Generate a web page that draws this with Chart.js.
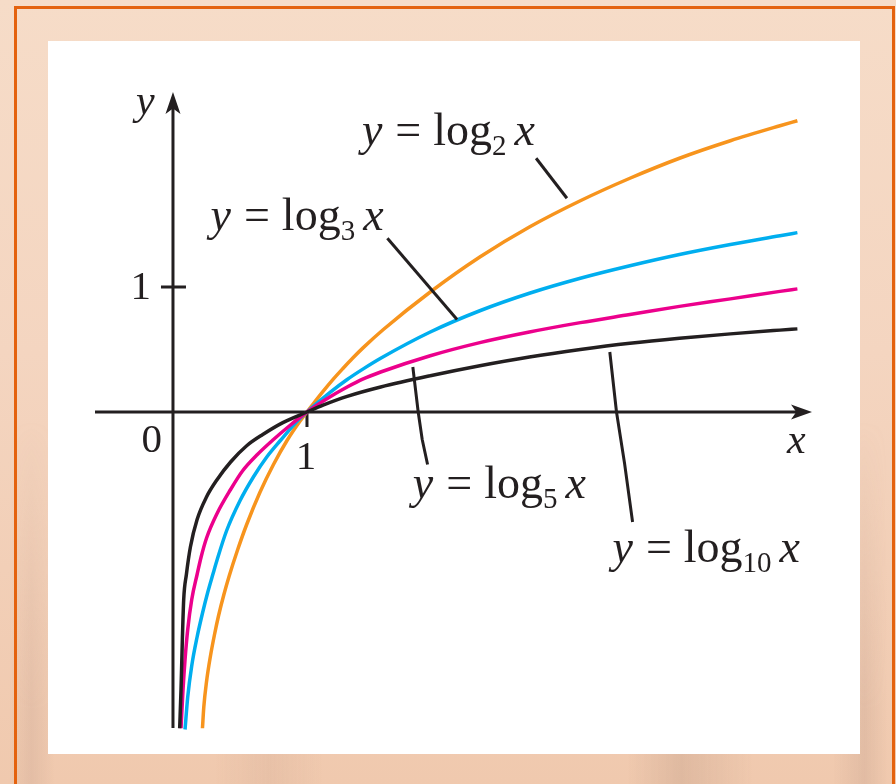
<!DOCTYPE html>
<html>
<head>
<meta charset="utf-8">
<script src="https://cdn.jsdelivr.net/npm/chart.js@4"></script>
<style>
  html, body { margin: 0; padding: 0; }
  body {
    width: 896px; height: 784px; position: relative; overflow: hidden;
    background: linear-gradient(180deg, #f6dcc8 0%, #f4d5c0 45%, #f0c9ae 100%);
  }
  .streaks {
    position: absolute; left: 0; top: 420px; width: 896px; height: 364px;
    background: linear-gradient(90deg, rgba(0,0,0,0) 1%, rgba(185,150,135,0.22) 3.5%, rgba(0,0,0,0) 6%,
      rgba(0,0,0,0) 24%, rgba(190,150,130,0.16) 30%, rgba(0,0,0,0) 36%,
      rgba(0,0,0,0) 70%, rgba(170,135,115,0.24) 76%, rgba(0,0,0,0) 84%,
      rgba(0,0,0,0) 93%, rgba(170,135,120,0.2) 96.5%, rgba(0,0,0,0) 99%);
    -webkit-mask-image: linear-gradient(180deg, transparent 0%, #000 80%);
    mask-image: linear-gradient(180deg, transparent 0%, #000 80%);
  }
  .frame {
    position: absolute; left: 14px; top: 6px; width: 875px; height: 820px;
    border: 3px solid #e4620e; border-bottom: none;
  }
  .panel {
    position: absolute; left: 48px; top: 41px; width: 812px; height: 713px; background: #fff;
  }
  canvas { position: absolute; left: 0; top: 0; }
</style>
</head>
<body>
<div class="streaks"></div>
<div class="frame"></div>
<div class="panel"></div>
<canvas id="c" width="896" height="784"></canvas>
<script>
// axis window
const X_MIN = -0.582, X_MAX = 4.769
const Y_MIN = -2.544, Y_MAX = 2.56

// curve samples
const log10X = [0.05, 0.06, 0.07, 0.08, 0.10, 0.13, 0.18, 0.25, 0.33, 0.43, 0.55, 0.67, 0.82, 1.0, 1.12, 1.30, 1.55, 1.92, 2.29, 2.66, 3.04, 3.41, 3.78, 4.16, 4.53, 4.66]
const log10Y = [-2.53, -2.22, -1.82, -1.50, -1.30, -1.08, -0.86, -0.68, -0.54, -0.40, -0.27, -0.18, -0.085, 0.0, 0.055, 0.125, 0.20, 0.29, 0.37, 0.44, 0.50, 0.55, 0.59, 0.625, 0.655, 0.665]

const log5X = [0.06, 0.075, 0.09, 0.11, 0.14, 0.18, 0.21, 0.25, 0.33, 0.43, 0.52, 0.63, 0.75, 0.87, 1.0, 1.17, 1.30, 1.42, 1.55, 1.92, 2.29, 2.66, 3.04, 3.41, 3.78, 4.16, 4.53, 4.66]
const log5Y = [-2.53, -2.22, -1.98, -1.74, -1.50, -1.30, -1.16, -1.01, -0.81, -0.62, -0.47, -0.34, -0.22, -0.11, 0.0, 0.12, 0.20, 0.265, 0.32, 0.45, 0.555, 0.64, 0.715, 0.78, 0.845, 0.905, 0.965, 0.985]

const log3X = [0.09, 0.11, 0.14, 0.18, 0.22, 0.26, 0.30, 0.33, 0.40, 0.50, 0.60, 0.70, 0.80, 0.93, 1.0, 1.08, 1.17, 1.30, 1.42, 1.55, 1.92, 2.29, 2.66, 3.04, 3.41, 3.78, 4.16, 4.53, 4.66]
const log3Y = [-2.54, -2.28, -2.03, -1.80, -1.61, -1.44, -1.29, -1.18, -0.95, -0.71, -0.52, -0.36, -0.23, -0.07, 0.0, 0.075, 0.155, 0.26, 0.345, 0.43, 0.64, 0.81, 0.95, 1.07, 1.17, 1.26, 1.34, 1.41, 1.435]

const log2X = [0.22, 0.23, 0.25, 0.28, 0.31, 0.34, 0.38, 0.42, 0.48, 0.55, 0.65, 0.75, 0.85, 0.95, 1.0, 1.05, 1.12, 1.19, 1.27, 1.34, 1.42, 1.57, 1.92, 2.29, 2.66, 3.04, 3.41, 3.78, 4.16, 4.53, 4.66]
const log2Y = [-2.53, -2.36, -2.16, -1.95, -1.78, -1.63, -1.46, -1.31, -1.11, -0.90, -0.64, -0.42, -0.23, -0.07, 0.0, 0.07, 0.165, 0.255, 0.35, 0.43, 0.515, 0.66, 0.96, 1.24, 1.48, 1.69, 1.87, 2.03, 2.17, 2.29, 2.33]

// curve captions: base, anchor (left edge / baseline)
const captionBase = ['2', '3', '5', '10']
const captionX = [1.41, 0.28, 1.79, 3.28]
const captionY = [2.14, 1.46, -0.69, -1.20]

// leader lines from captions to curves
const leaderX = [[2.71, 2.94], [1.60, 2.12], [1.79, 1.83, 1.86, 1.90], [3.26, 3.31, 3.37, 3.43]]
const leaderY = [[2.03, 1.71], [1.39, 0.74], [0.36, 0.0, -0.22, -0.42], [0.48, 0.0, -0.41, -0.88]]

// ticks
const xTicks = [1]
const yTicks = [1]

const INK = '#231f20'
const SERIF = '"Liberation Serif", "DejaVu Serif", serif'

const pts = (xs, ys) => xs.map((x, i) => ({ x, y: ys[i] }))
const curve = (data, color) => ({
  data, borderColor: color, borderWidth: 3.5, pointRadius: 0,
  cubicInterpolationMode: 'monotone', fill: false
})

function arrowHead (ctx, tipX, tipY, dirX, dirY, len, half) {
  const bx = tipX - dirX * len, by = tipY - dirY * len
  const nx = -dirY, ny = dirX
  ctx.beginPath()
  ctx.moveTo(tipX, tipY)
  ctx.lineTo(bx + nx * half, by + ny * half)
  ctx.lineTo(tipX - dirX * len * 0.75, tipY - dirY * len * 0.75)
  ctx.lineTo(bx - nx * half, by - ny * half)
  ctx.closePath()
  ctx.fill()
}

// y = log_b x, italic y and x, roman log, small subscript
function logCaption (ctx, x, y, base) {
  ctx.textBaseline = 'alphabetic'
  ctx.textAlign = 'left'
  const big = '46px ' + SERIF
  const parts = [
    ['y', 'italic ' + big, 0, 13],
    ['=', big, 0, 12],
    ['log', big, 0, 0],
    [base, '29px ' + SERIF, 10, 8],
    ['x', 'italic ' + big, 0, 0]
  ]
  for (const [t, f, dy, after] of parts) {
    ctx.font = f
    ctx.fillText(t, x, y + dy)
    x += ctx.measureText(t).width + after
  }
}

const axesPlugin = {
  id: 'axes',
  beforeDatasetsDraw (chart) {
    const { ctx, scales: { x, y } } = chart
    const x0 = x.getPixelForValue(0), y0 = y.getPixelForValue(0)
    ctx.save()
    ctx.strokeStyle = INK; ctx.fillStyle = INK; ctx.lineWidth = 3
    // axis lines
    ctx.beginPath()
    ctx.moveTo(x.left, y0); ctx.lineTo(x.right - 6, y0)
    ctx.moveTo(x0, y.bottom - 2); ctx.lineTo(x0, y.top + 6)
    ctx.stroke()
    arrowHead(ctx, x.right, y0, 1, 0, 21, 7.5)
    arrowHead(ctx, x0, y.top, 0, -1, 22, 7.5)
    // ticks
    ctx.beginPath()
    xTicks.forEach(v => { const p = x.getPixelForValue(v); ctx.moveTo(p, y0); ctx.lineTo(p, y0 + 15) })
    yTicks.forEach(v => { const p = y.getPixelForValue(v); ctx.moveTo(x0 - 12, p); ctx.lineTo(x0 + 13, p) })
    ctx.stroke()
    // tick labels
    ctx.font = '41px ' + SERIF
    ctx.textBaseline = 'alphabetic'
    ctx.textAlign = 'center'
    xTicks.forEach(v => ctx.fillText(String(v), x.getPixelForValue(v) - 1, y0 + 57))
    ctx.textAlign = 'right'
    yTicks.forEach(v => ctx.fillText(String(v), x0 - 22, y.getPixelForValue(v) + 12))
    ctx.fillText('0', x0 - 11, y0 + 40)
    // axis names
    ctx.font = 'italic 42px ' + SERIF
    ctx.textAlign = 'left'
    ctx.fillText('y', x0 - 37, y.top + 22)
    ctx.fillText('x', x.right - 25, y0 + 41)
    ctx.restore()
  },
  afterDatasetsDraw (chart) {
    const { ctx, scales: { x, y } } = chart
    ctx.save()
    ctx.strokeStyle = INK; ctx.fillStyle = INK; ctx.lineWidth = 3
    ctx.lineJoin = 'round'
    leaderX.forEach((xs, i) => {
      ctx.beginPath()
      xs.forEach((v, j) => {
        const px = x.getPixelForValue(v), py = y.getPixelForValue(leaderY[i][j])
        j ? ctx.lineTo(px, py) : ctx.moveTo(px, py)
      })
      ctx.stroke()
    })
    captionBase.forEach((b, i) => {
      logCaption(ctx, x.getPixelForValue(captionX[i]), y.getPixelForValue(captionY[i]), b)
    })
    ctx.restore()
  }
}

new Chart(document.getElementById('c'), {
  type: 'line',
  data: {
    datasets: [
      curve(pts(log10X, log10Y), INK),
      curve(pts(log5X, log5Y), '#ec008c'),
      curve(pts(log3X, log3Y), '#00aeef'),
      curve(pts(log2X, log2Y), '#f7941d')
    ]
  },
  options: {
    responsive: false, animation: false, devicePixelRatio: 1,
    layout: { padding: { left: 95, right: 84, top: 92, bottom: 54 } },
    plugins: { legend: { display: false }, tooltip: { enabled: false } },
    scales: {
      x: { type: 'linear', min: X_MIN, max: X_MAX, display: false },
      y: { type: 'linear', min: Y_MIN, max: Y_MAX, display: false }
    }
  },
  plugins: [axesPlugin]
})
</script>
</body>
</html>
